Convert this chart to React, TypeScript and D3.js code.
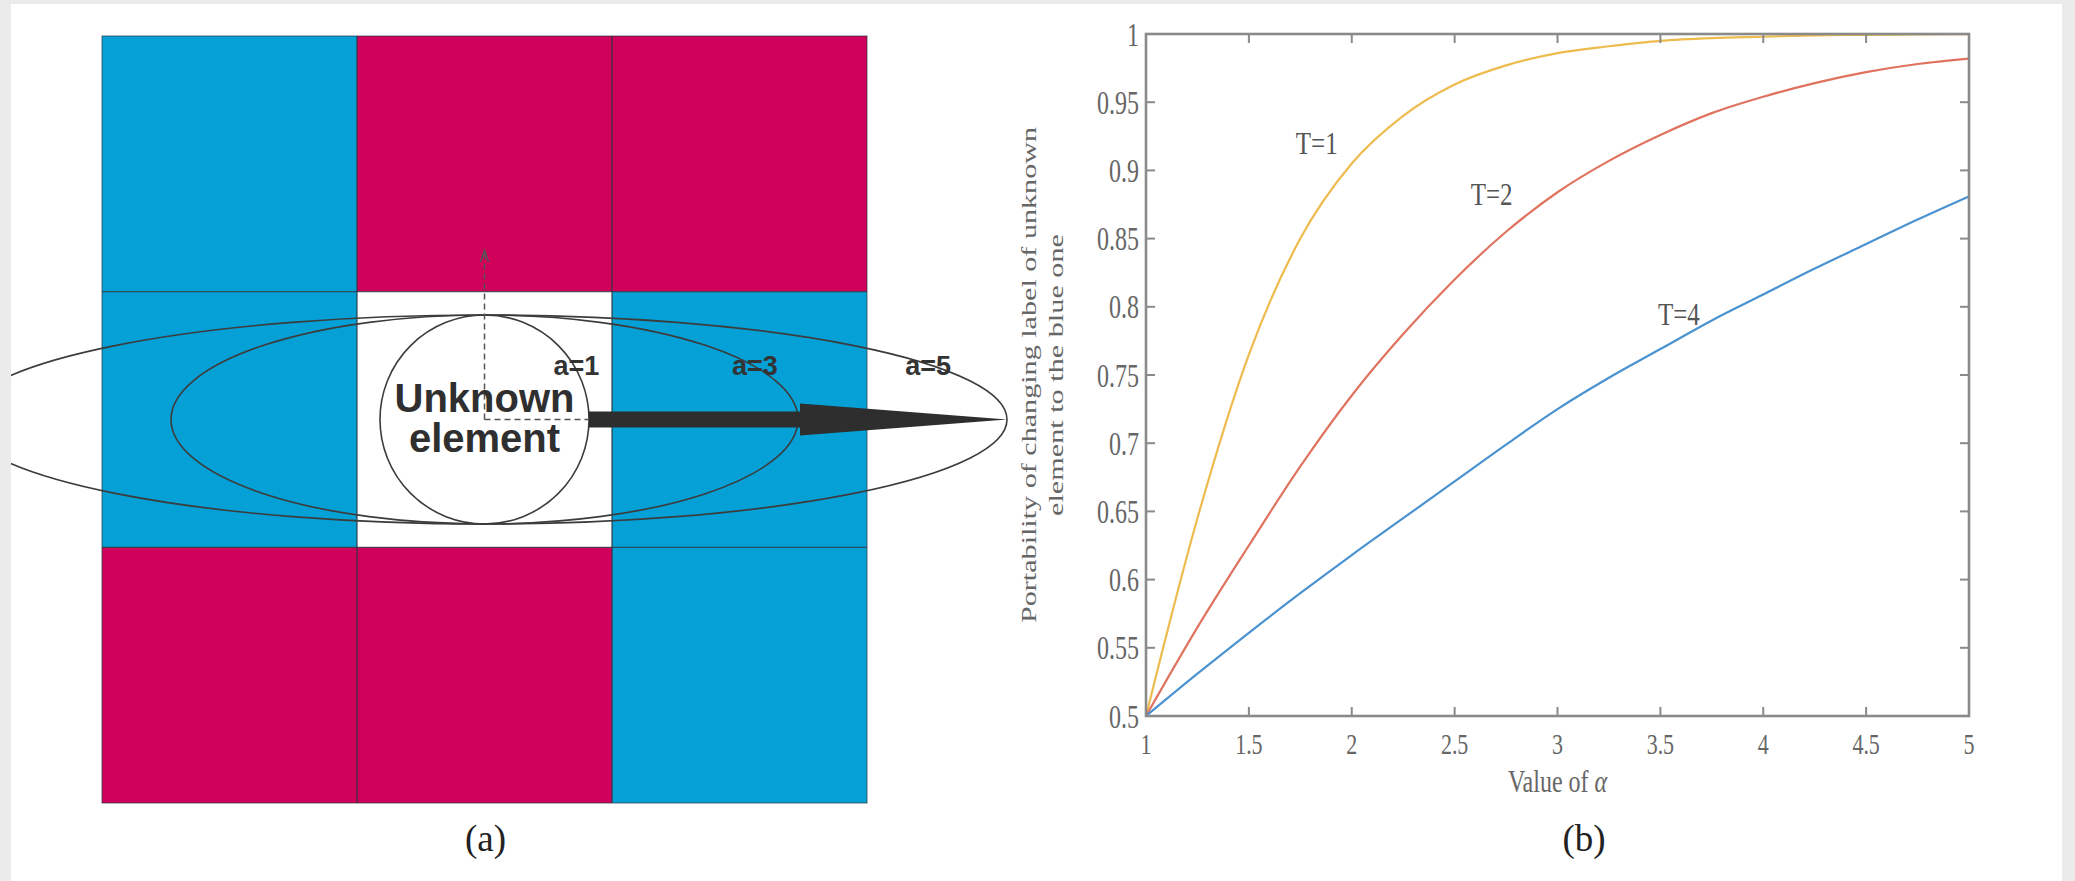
import React from 'react';
import * as d3 from 'd3';

// ---------- Panel (b) data ----------
const alphaValues = [1, 1.25, 1.5, 1.75, 2, 2.25, 2.5, 2.75, 3, 3.25, 3.5, 3.75, 4, 4.25, 4.5, 4.75, 5];
const probT1 = [0.5, 0.645, 0.765, 0.85, 0.905, 0.94, 0.963, 0.977, 0.986, 0.991, 0.995, 0.997, 0.998, 0.999, 0.9994, 0.9997, 0.9998];
const probT2 = [0.5, 0.565, 0.625, 0.683, 0.735, 0.78, 0.82, 0.855, 0.884, 0.907, 0.926, 0.942, 0.954, 0.964, 0.972, 0.978, 0.982];
const probT4 = [0.5, 0.531, 0.561, 0.59, 0.618, 0.645, 0.672, 0.699, 0.725, 0.748, 0.769, 0.79, 0.809, 0.828, 0.846, 0.864, 0.881];
const seriesNames = ['T=1', 'T=2', 'T=4'];
const seriesColors = ['#EDBB4E', '#E0735F', '#4A92D0'];
const labelAlpha = [1.83, 2.68, 3.59];
const labelProb = [0.92, 0.883, 0.795];
const xTickValues = [1, 1.5, 2, 2.5, 3, 3.5, 4, 4.5, 5];
const xTickLabels = ['1', '1.5', '2', '2.5', '3', '3.5', '4', '4.5', '5'];
const yTickValues = [0.5, 0.55, 0.6, 0.65, 0.7, 0.75, 0.8, 0.85, 0.9, 0.95, 1];
const yTickLabels = ['0.5', '0.55', '0.6', '0.65', '0.7', '0.75', '0.8', '0.85', '0.9', '0.95', '1'];
const yLabelLines = ['Portability of changing label of unknown', 'element to the blue one'];

// ---------- Panel (a) data ----------
const gridCells = [
  ['blue', 'red', 'red'],
  ['blue', 'white', 'blue'],
  ['red', 'red', 'blue'],
];
const ellipseFactors = [1, 3, 5];
const ellipseLabels = ['a=1', 'a=3', 'a=5'];
const ellipseLabelX = [1.86, 2.56, 3.24]; // in grid-cell units
const centerText = ['Unknown', 'element'];

const W = 2075;
const H = 881;
const cellColor: Record<string, string> = { blue: '#04A0D6', red: '#CF015B', white: '#FFFFFF' };
const serif = '"Liberation Serif", "Times New Roman", serif';
const sans = '"Liberation Sans", Arial, sans-serif';
const axisGray = '#8A8A8A';
const textGray = '#666666';

export default function App() {
  // panel b scales
  const x = d3.scaleLinear().domain([1, 5]).range([1146, 1969]);
  const y = d3.scaleLinear().domain([0.5, 1]).range([716, 34]);
  const line = d3
    .line<number>()
    .x((_, i) => x(alphaValues[i]))
    .y((d) => y(d))
    .curve(d3.curveMonotoneX);
  const series = [probT1, probT2, probT4];

  // panel a scales
  const gx = d3.scaleLinear().domain([0, 3]).range([102, 867]);
  const gy = d3.scaleLinear().domain([0, 3]).range([36, 803]);
  const cx = gx(1.5);
  const cy = gy(1.5);
  const unit = 104.5;

  const shaftStart = cx + unit;
  const headStart = cx + 3 * unit + 2;
  const tip = cx + 5 * unit;

  const x0 = x.range()[0];
  const x1 = x.range()[1];
  const y0 = y.range()[0];
  const y1 = y.range()[1];
  const tick = 9;

  return (
    <svg width={W} height={H} style={{ position: 'absolute', left: 0, top: 0 }} xmlns="http://www.w3.org/2000/svg">
      <defs>
        <clipPath id="whiteArea">
          <rect x={11} y={4} width={2051} height={877} />
        </clipPath>
      </defs>
      <rect x={0} y={0} width={W} height={H} fill="#EBEBEB" />
      <rect x={11} y={4} width={2051} height={877} fill="#FFFFFF" />

      {/* ---------- Panel (a) ---------- */}
      <g clipPath="url(#whiteArea)">
        {gridCells.map((row, r) =>
          row.map((c, k) => (
            <rect
              key={`c${r}-${k}`}
              x={gx(k)}
              y={gy(r)}
              width={gx(k + 1) - gx(k)}
              height={gy(r + 1) - gy(r)}
              fill={cellColor[c]}
            />
          ))
        )}
        {[1, 2].map((i) => (
          <line key={`v${i}`} x1={gx(i)} x2={gx(i)} y1={gy(0)} y2={gy(3)} stroke="#2B3540" strokeWidth={1.4} opacity={0.8} />
        ))}
        {[1, 2].map((i) => (
          <line key={`h${i}`} x1={gx(0)} x2={gx(3)} y1={gy(i)} y2={gy(i)} stroke="#2B3540" strokeWidth={1.4} opacity={0.8} />
        ))}
        <rect x={gx(0)} y={gy(0)} width={gx(3) - gx(0)} height={gy(3) - gy(0)} fill="none" stroke="#2B3540" strokeWidth={1.2} opacity={0.6} />

        {ellipseFactors.map((a) => (
          <ellipse key={`e${a}`} cx={cx} cy={cy} rx={a * unit} ry={unit} fill="none" stroke="#3C3C3C" strokeWidth={1.6} />
        ))}

        {/* thick arrow */}
        <path
          d={`M${shaftStart},${cy - 8} L${headStart},${cy - 8} L${headStart},${cy - 16} L${tip},${cy} L${headStart},${cy + 16} L${headStart},${cy + 8} L${shaftStart},${cy + 8} Z`}
          fill="#2E2E2E"
        />

        {/* dashed guides */}
        <line x1={cx} y1={cy} x2={cx} y2={252} stroke="#555" strokeWidth={1.5} strokeDasharray="6,4" />
        <path d={`M${cx - 4},${262} L${cx},${250} L${cx + 4},${262}`} fill="none" stroke="#555" strokeWidth={1.5} />
        <line x1={cx} y1={cy} x2={shaftStart} y2={cy} stroke="#555" strokeWidth={1.5} strokeDasharray="6,4" />

        {ellipseLabels.map((t, i) => (
          <text
            key={t}
            x={gx(ellipseLabelX[i])}
            y={375}
            textAnchor="middle"
            fontFamily={sans}
            fontWeight="bold"
            fontSize={27}
            fill="#333"
          >
            {t}
          </text>
        ))}
        <text x={cx} y={412} textAnchor="middle" fontFamily={sans} fontWeight="bold" fontSize={40} fill="#2F2F2F">
          {centerText.map((t, i) => (
            <tspan key={t} x={cx} dy={i === 0 ? 0 : 40}>
              {t}
            </tspan>
          ))}
        </text>
      </g>
      <text x={cx + 1} y={851} textAnchor="middle" fontFamily={serif} fontSize={37} fill="#222">
        (a)
      </text>

      {/* ---------- Panel (b) ---------- */}
      {series.map((s, i) => (
        <path key={seriesNames[i]} d={line(s) || ''} fill="none" stroke={seriesColors[i]} strokeWidth={2.2} />
      ))}

      <rect x={x0} y={y1} width={x1 - x0} height={y0 - y1} fill="none" stroke={axisGray} strokeWidth={2.6} />
      {xTickValues.map((v) => (
        <g key={`xt${v}`}>
          <line x1={x(v)} x2={x(v)} y1={y0} y2={y0 - tick} stroke={axisGray} strokeWidth={2} />
          <line x1={x(v)} x2={x(v)} y1={y1} y2={y1 + tick} stroke={axisGray} strokeWidth={2} />
        </g>
      ))}
      {yTickValues.map((v) => (
        <g key={`yt${v}`}>
          <line x1={x0} x2={x0 + tick} y1={y(v)} y2={y(v)} stroke={axisGray} strokeWidth={2} />
          <line x1={x1} x2={x1 - tick} y1={y(v)} y2={y(v)} stroke={axisGray} strokeWidth={2} />
        </g>
      ))}
      {xTickValues.map((v, i) => (
        <text
          key={`xl${v}`}
          transform={`translate(${x(v)},${744}) scale(1,1.35)`}
          textAnchor="middle"
          dominantBaseline="central"
          fontFamily={serif}
          fontSize={22}
          fill={textGray}
        >
          {xTickLabels[i]}
        </text>
      ))}
      {yTickValues.map((v, i) => (
        <text
          key={`yl${v}`}
          transform={`translate(${1139},${y(v)}) scale(1,1.4)`}
          textAnchor="end"
          dominantBaseline="central"
          fontFamily={serif}
          fontSize={24}
          fill={textGray}
        >
          {yTickLabels[i]}
        </text>
      ))}
      <text
        transform={`translate(${(x0 + x1) / 2},${781}) scale(1,1.3)`}
        textAnchor="middle"
        dominantBaseline="central"
        fontFamily={serif}
        fontSize={24}
        fill={textGray}
      >
        Value of <tspan fontStyle="italic">α</tspan>
      </text>
      {yLabelLines.map((t, i) => (
        <text
          key={t}
          transform={`translate(${1036 + i * 27},${(y0 + y1) / 2}) rotate(-90)`}
          textAnchor="middle"
          fontFamily={serif}
          fontSize={22}
          fill={textGray}
          textLength={i === 0 ? 496 : 282}
          lengthAdjust="spacingAndGlyphs"
        >
          {t}
        </text>
      ))}
      {seriesNames.map((n, i) => (
        <text
          key={`lab${n}`}
          transform={`translate(${x(labelAlpha[i])},${y(labelProb[i])}) scale(1,1.3)`}
          textAnchor="middle"
          dominantBaseline="central"
          fontFamily={serif}
          fontSize={25}
          fill="#555"
        >
          {n}
        </text>
      ))}
      <text x={1584} y={851} textAnchor="middle" fontFamily={serif} fontSize={37} fill="#222">
        (b)
      </text>
    </svg>
  );
}
